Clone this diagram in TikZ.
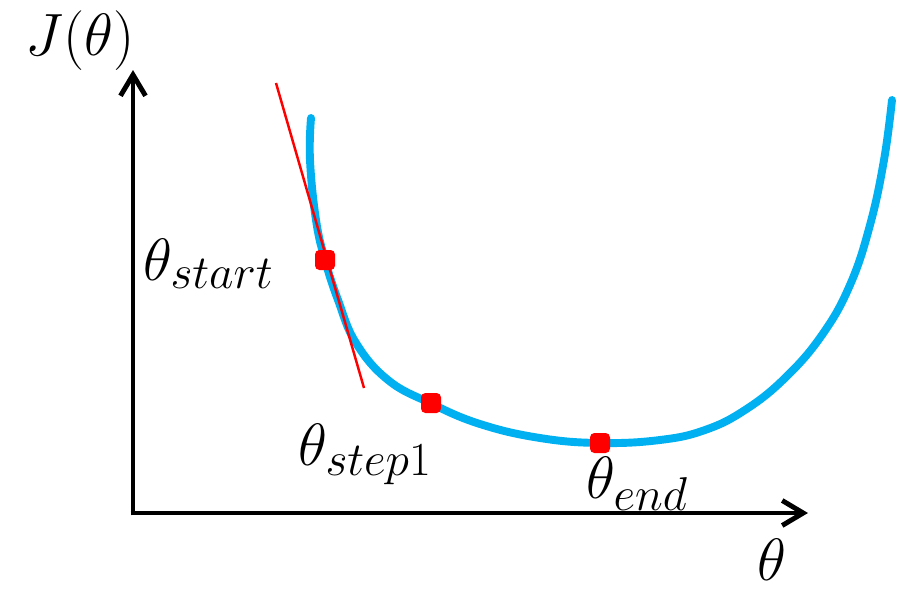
\RequirePackage{fix-cm}
\documentclass[tikz,border=0pt]{standalone}
\usepackage{amsmath,amssymb}
\usetikzlibrary{arrows.meta,positioning}
\definecolor{curveblue}{RGB}{0,176,240}
\definecolor{dotred}{RGB}{255,0,0}
\DeclareMathSizes{34}{34}{27}{21}

\tikzset{
  axis/.style={line width=2.8pt, -{Straight Barb[length=0.42cm, width=0.5cm, line width=2.8pt]}},
  dotmark/.style={fill=dotred, rounded corners=2.5pt, minimum size=0.4cm, inner sep=0pt},
  lbl/.style={font=\fontsize{34}{40}\selectfont, inner sep=0pt}
}

\begin{document}
\begin{tikzpicture}[x=0.02cm, y=-0.02cm]
  \useasboundingbox (0,0) rectangle (903,595);

  % Axes
  \coordinate (origin) at (133,513);
  \coordinate (ytip) at (133,70);
  \coordinate (xtip) at (808,513);
  \draw[axis] ([yshift=-1.4pt]origin) -- (ytip);
  \draw[axis] ([xshift=-1.4pt]origin) -- (xtip);
  \node[lbl] (jlabel) at (80,41) {$J(\theta)$};
  \node[lbl] (thlabel) at (772,560) {$\theta$};

  % Cost curve
  \draw[curveblue, line width=4.5pt, line cap=round] plot[smooth, tension=0.7] coordinates {
    (311,118) (310,160) (316,220) (325,260) (338,300) (356,343) (388,380)
    (430,403) (480,424) (540,438) (600,443) (660,440) (705,430) (745,410)
    (785,378) (822,335) (850,285) (870,225) (884,160) (892,100)};

  % Tangent at the start
  \coordinate (tanA) at (276,83);
  \coordinate (tanB) at (364,388);
  \draw[dotred, line width=1.4pt] (tanA) -- (tanB);

  % Points
  \node[dotmark] (pstart) at (325,260) {};
  \node[dotmark] (pstep) at (431,403) {};
  \node[dotmark] (pend) at (600,443) {};

  % Labels
  \node[lbl, anchor=base west] (lstart) at (143,280) {$\theta_{start}$};
  \node[lbl, anchor=base west] (lstep) at (298,465) {$\theta_{step1}$};
  \node[lbl, anchor=base west] (lend) at (586,498) {$\theta_{end}$};
\end{tikzpicture}
\end{document}
